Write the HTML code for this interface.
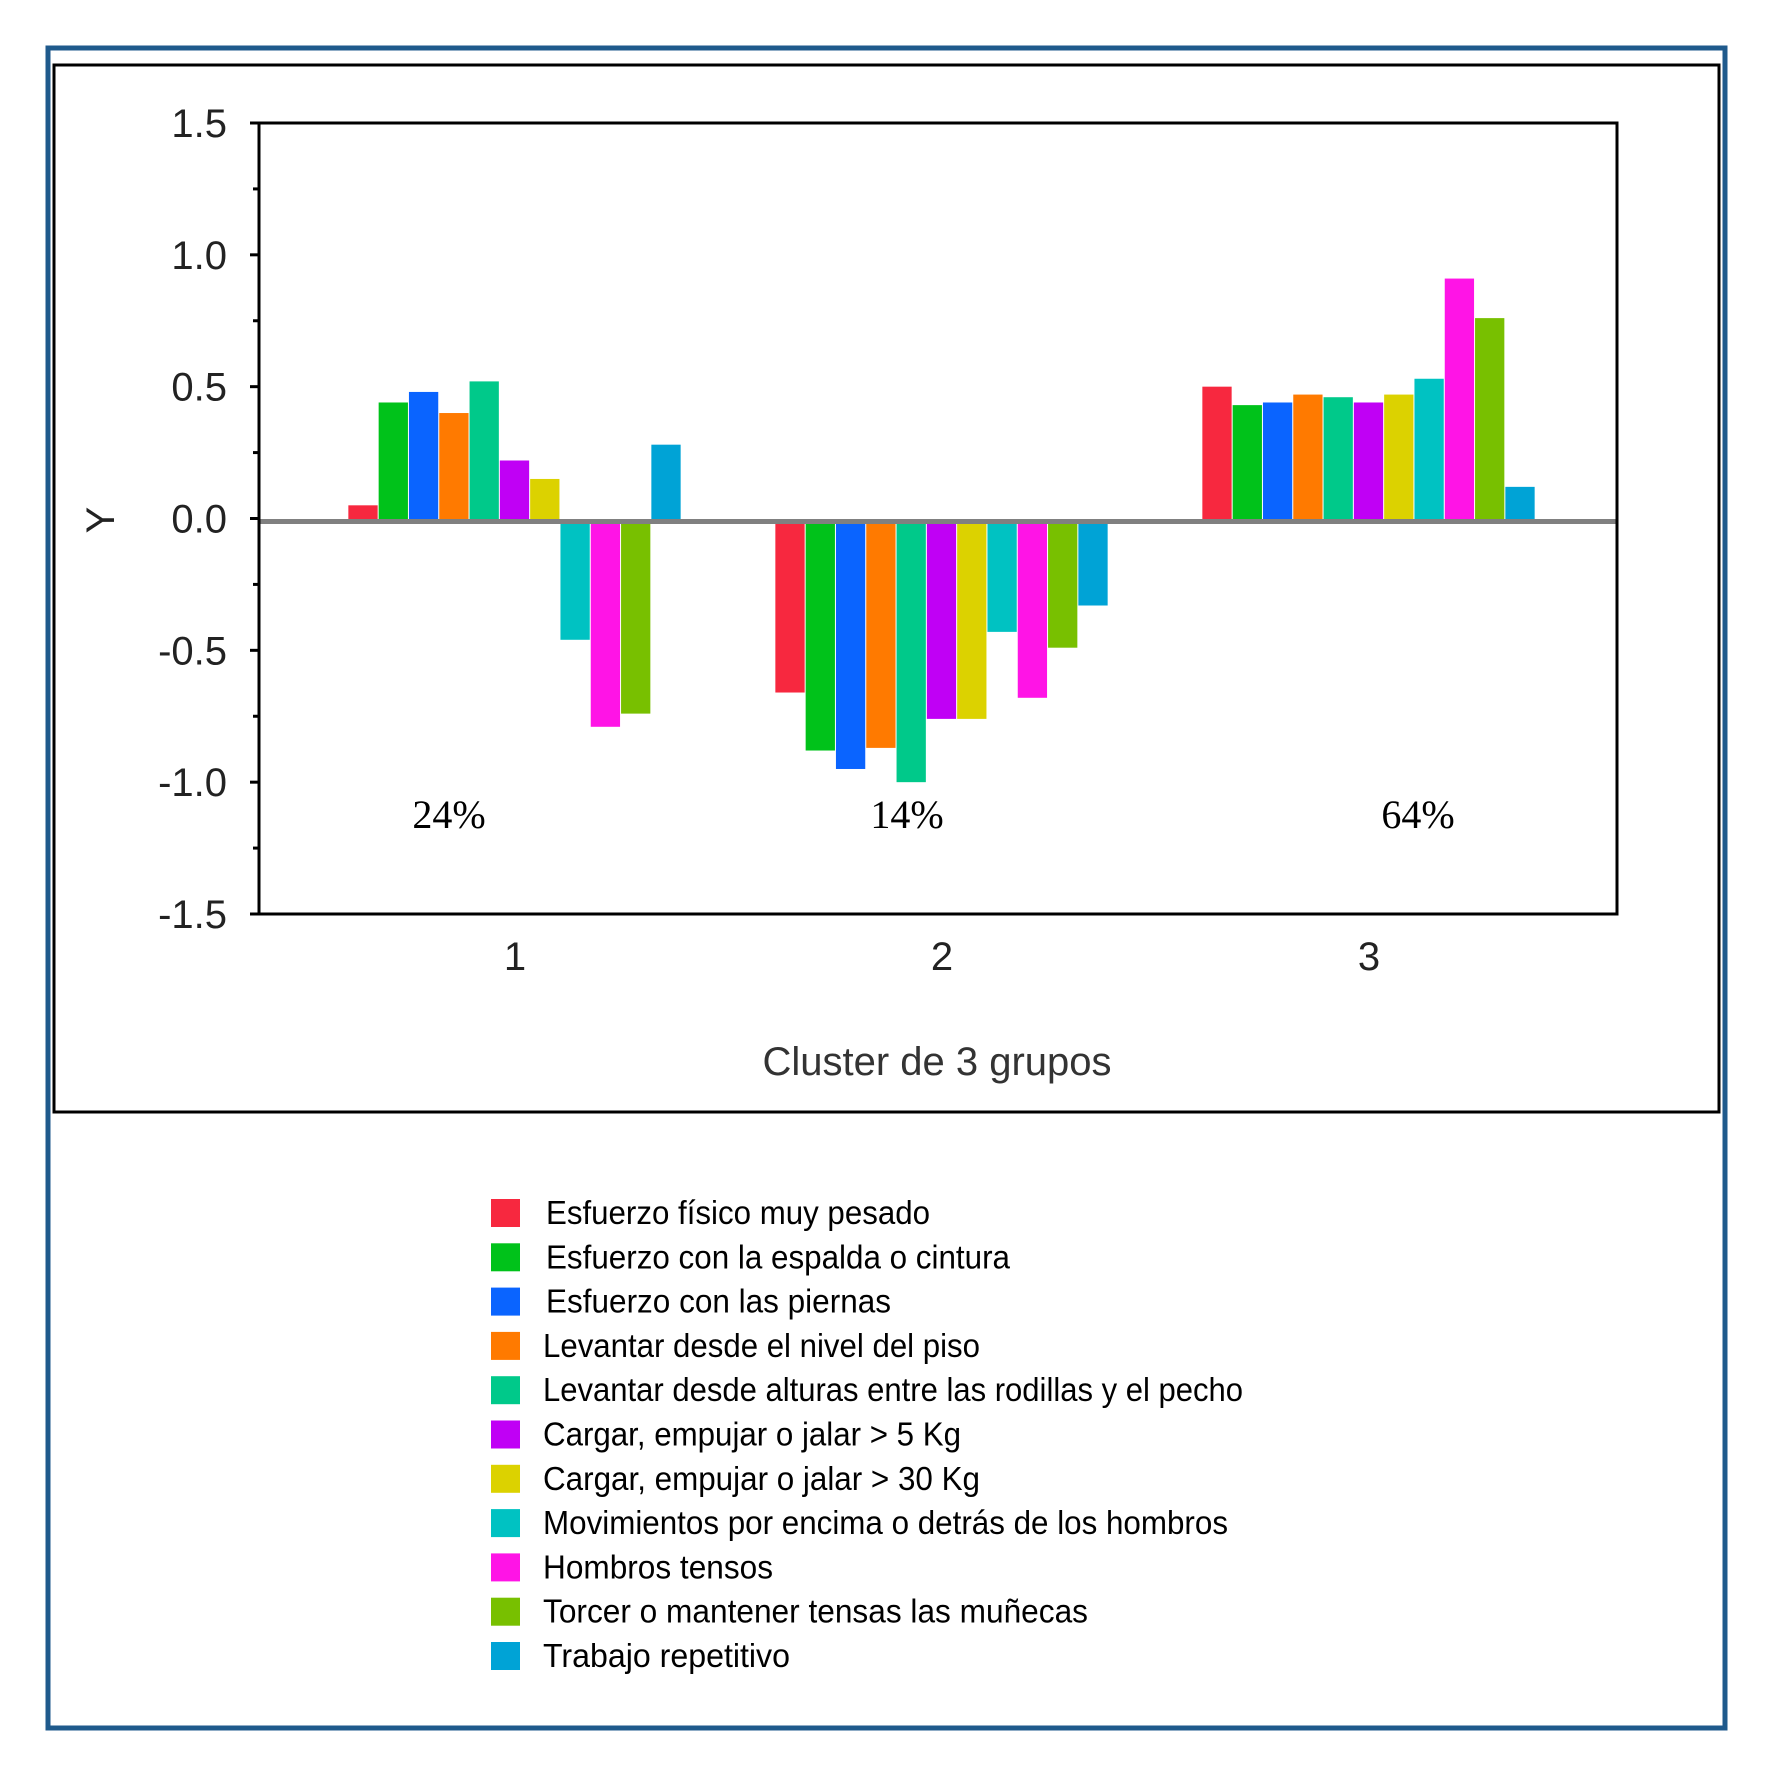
<!DOCTYPE html>
<html><head><meta charset="utf-8"><style>body{margin:0;background:#fff}svg{display:block}</style></head>
<body>
<svg width="1772" height="1775" xmlns="http://www.w3.org/2000/svg" font-family="Liberation Sans, Arial, sans-serif">
<rect x="48" y="48" width="1677" height="1680" fill="#fff" stroke="#1f5a8c" stroke-width="5"/>
<rect x="54" y="65" width="1665" height="1047" fill="none" stroke="#000" stroke-width="3"/>
<g id="plot"></g>
</svg>
<script>
const categories = ['1','2','3'];
const percentLabels = ['24%','14%','64%'];
const seriesNames = ['Esfuerzo físico muy pesado','Esfuerzo con la espalda o cintura','Esfuerzo con las piernas','Levantar desde el nivel del piso','Levantar desde alturas entre las rodillas y el pecho','Cargar, empujar o jalar > 5 Kg','Cargar, empujar o jalar > 30 Kg','Movimientos por encima o detrás de los hombros','Hombros tensos','Torcer o mantener tensas las muñecas','Trabajo repetitivo'];
const seriesColors = ['#f7283f','#00c21a','#0a64ff','#ff7a00','#00c98a','#c000f5','#dcd200','#00c2c2','#ff14e6','#78c000','#00a3d6'];
const cluster1 = [0.05,0.44,0.48,0.40,0.52,0.22,0.15,-0.46,-0.79,-0.74,0.28];
const cluster2 = [-0.66,-0.88,-0.95,-0.87,-1.0,-0.76,-0.76,-0.43,-0.68,-0.49,-0.33];
const cluster3 = [0.50,0.43,0.44,0.47,0.46,0.44,0.47,0.53,0.91,0.76,0.12];
const yTicks = [1.5,1.0,0.5,0.0,-0.5,-1.0,-1.5];
const legendWidths = [384,464,345,437,700,418,437,685,230,545,247];

const NS='http://www.w3.org/2000/svg';
const g=document.getElementById('plot');
const L=259,R=1617,T=123,B=914,ymin=-1.5,ymax=1.5;
const y=v=>T+(ymax-v)/(ymax-ymin)*(B-T);
const catC=i=>515+i*427;
const bw=30.3;
function el(tag,attrs,parent){const e=document.createElementNS(NS,tag);for(const k in attrs)e.setAttribute(k,attrs[k]);(parent||g).appendChild(e);return e;}
for(let v=-1.5;v<=1.5001;v+=0.25){const maj=Math.abs(v*2-Math.round(v*2))<1e-6;
 const t=el('line',{x1:maj?L-9:L-6,x2:L,y1:y(v),y2:y(v),stroke:'#000','stroke-width':3});
 
 }
yTicks.forEach(v=>{const t=el('text',{x:227,y:y(v)+14,'text-anchor':'end','font-size':40,fill:'#222'});t.textContent=v.toFixed(1);
 
 });
const clusters=[cluster1,cluster2,cluster3];
clusters.forEach((vals,ci)=>{const start=catC(ci)-bw*vals.length/2;
 vals.forEach((v,si)=>{const y0=y(0)+3,y1=y(v);
  const r=el('rect',{x:start+si*bw,y:Math.min(y0,y1),width:bw-1,height:Math.abs(y1-y0),fill:seriesColors[si]});
  
  });
 const c=el('text',{x:catC(ci),y:970,'text-anchor':'middle','font-size':40,fill:'#222'});c.textContent=categories[ci];
 
 
 const p=el('text',{x:[449,907,1418][ci],y:828,'text-anchor':'middle','font-size':40,'font-family':'Liberation Serif, serif',fill:'#000'});p.textContent=percentLabels[ci];
 
 });
const z=el('line',{x1:L,x2:R,y1:y(0)+3,y2:y(0)+3,stroke:'#808080','stroke-width':5});


const ax=el('rect',{x:L,y:T,width:R-L,height:B-T,fill:'none',stroke:'#000','stroke-width':3});


const xt=el('text',{x:937,y:1075,'text-anchor':'middle','font-size':40,fill:'#333'});xt.textContent='Cluster de 3 grupos';


const yt=el('text',{x:0,y:0,'text-anchor':'middle','font-size':40,fill:'#222',transform:'translate(114,520) rotate(-90)'});yt.textContent='Y';


seriesNames.forEach((n,i)=>{const cy=1213+i*44.3;
 const s=el('rect',{x:491,y:cy-14,width:29,height:28,fill:seriesColors[i]});
 
 
 const t=el('text',{x:i<3?546:543,y:cy+11,'font-size':33,fill:'#000',textLength:legendWidths[i],lengthAdjust:'spacingAndGlyphs'});t.textContent=n;
 
 });
</script>
</body></html>
